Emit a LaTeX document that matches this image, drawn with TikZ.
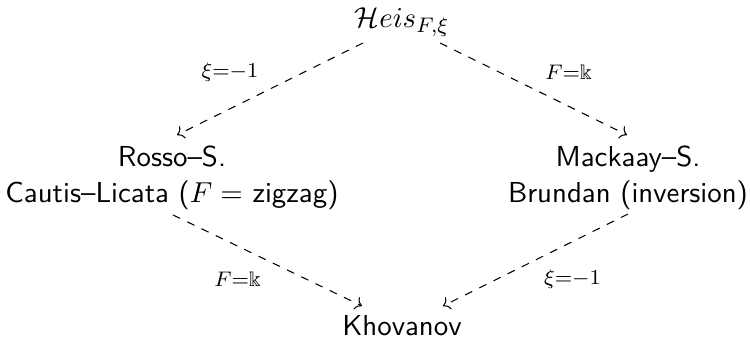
\documentclass[11pt,tikz,border=0pt]{standalone}
\usepackage{amssymb}
\usetikzlibrary{calc,cd}
\begin{document}
\begin{tikzpicture}[x=0.0133333cm,y=-0.0133333cm,
    obj/.style={font=\sffamily, align=center, inner sep=0pt},
    lbl/.style={font=\normalsize, inner sep=0pt},
    map/.style={draw, dashed, -{cm to}}]
  \useasboundingbox (0,0) rectangle (750,338);

  % objects
  \node[obj, anchor=base] (heis) at (402,28) {$\mathcal{H}eis_{F,\xi}$};
  \node[obj] (left)  at (172,178) {Rosso--S.\\Cautis--Licata ($F=$ zigzag)};
  \node[obj] (right) at (628,178) {Mackaay--S.\\Brundan (inversion)};
  \node[obj, anchor=base] (kh) at (402,336) {Khovanov};

  % specialisations
  \draw[map] ($(heis.base)+(-39,15)$) -- ($(left.center)+(5,-43)$)
    node[lbl, midway, shift={(-40,-17)}] (l1) {$\scriptstyle \xi=-1$};
  \draw[map] ($(heis.base)+(38,15)$) -- ($(right.center)+(-1,-43)$)
    node[lbl, midway, shift={(35,-17)}] (l2) {$\scriptstyle F=\Bbbk$};
  \draw[map] ($(left.center)+(1,37)$) -- ($(kh.base)+(-40,-30)$)
    node[lbl, midway, shift={(-30,19)}] (l3) {$\scriptstyle F=\Bbbk$};
  \draw[map] ($(right.center)+(0,36)$) -- ($(kh.base)+(41,-30)$)
    node[lbl, midway, shift={(37,19)}] (l4) {$\scriptstyle \xi=-1$};
\end{tikzpicture}
\end{document}
